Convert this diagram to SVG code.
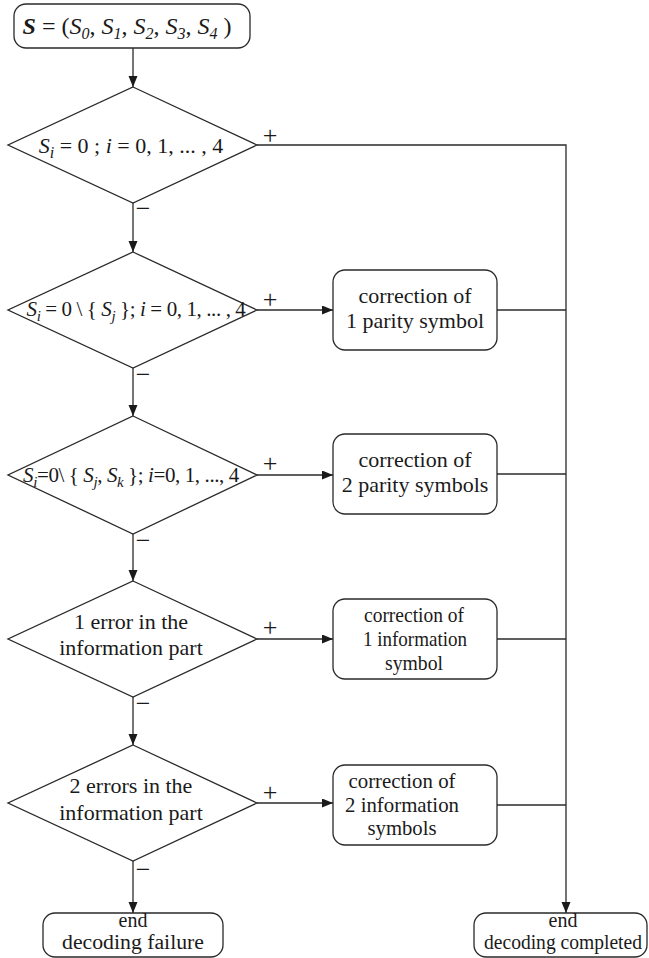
<svg xmlns="http://www.w3.org/2000/svg" width="649" height="958" viewBox="0 0 649 958">
<defs>
<marker id="arr" markerUnits="userSpaceOnUse" markerWidth="12" markerHeight="10" refX="11" refY="4.5" orient="auto">
<path d="M0,0 L11,4.5 L0,9 z" fill="#1a1a1a"/>
</marker>
<style>
.n{fill:#fff;stroke:#2a2a2a;stroke-width:1.3}
.t{font-family:"Liberation Serif","Times New Roman",serif;font-size:22px;fill:#1a1a1a;text-anchor:middle}
.e{font-family:"Liberation Serif","Times New Roman",serif;font-size:20px;fill:#1a1a1a;text-anchor:middle}
.l{font-family:"Liberation Serif","Times New Roman",serif;font-size:26px;fill:#1a1a1a;text-anchor:middle}
.c{fill:none;stroke:#2a2a2a;stroke-width:1.3}
.i{font-style:italic}
</style>
</defs>
<rect width="649" height="958" fill="#fff"/>
<g id="connectors">
<path class="c" d="M133,48 V87" marker-end="url(#arr)"/>
<path class="c" d="M133,203 V252" marker-end="url(#arr)"/>
<path class="c" d="M133,368 V416" marker-end="url(#arr)"/>
<path class="c" d="M133,534 V581" marker-end="url(#arr)"/>
<path class="c" d="M133,697 V745" marker-end="url(#arr)"/>
<path class="c" d="M133,861 V913" marker-end="url(#arr)"/>
<path class="c" d="M257,145 H566 V913" marker-end="url(#arr)"/>
<path class="c" d="M257,310 H333" marker-end="url(#arr)"/>
<path class="c" d="M257,475 H333" marker-end="url(#arr)"/>
<path class="c" d="M257,639 H333" marker-end="url(#arr)"/>
<path class="c" d="M257,803 H333" marker-end="url(#arr)"/>
<path class="c" d="M497,310 H566"/>
<path class="c" d="M497,474 H566"/>
<path class="c" d="M497,639 H566"/>
<path class="c" d="M497,805 H566"/>
<text class="l" x="270" y="144">+</text>
<text class="l" x="270" y="308">+</text>
<text class="l" x="270" y="472">+</text>
<text class="l" x="270" y="636">+</text>
<text class="l" x="270" y="801">+</text>
<text class="l" x="143" y="217">−</text>
<text class="l" x="143" y="383">−</text>
<text class="l" x="143" y="549">−</text>
<text class="l" x="143" y="712">−</text>
<text class="l" x="143" y="878">−</text>
</g>
<g id="start">
<rect class="n" x="14" y="4" width="236" height="44" rx="12"/>
<text class="t" x="127" y="34" style="font-size:24px"><tspan font-weight="bold" class="i">S</tspan> = (<tspan class="i">S</tspan><tspan class="i" font-size="16" dy="5">0</tspan><tspan dy="-5">, </tspan><tspan class="i">S</tspan><tspan class="i" font-size="16" dy="5">1</tspan><tspan dy="-5">, </tspan><tspan class="i">S</tspan><tspan class="i" font-size="16" dy="5">2</tspan><tspan dy="-5">, </tspan><tspan class="i">S</tspan><tspan class="i" font-size="16" dy="5">3</tspan><tspan dy="-5">, </tspan><tspan class="i">S</tspan><tspan class="i" font-size="16" dy="5">4</tspan><tspan dy="-5"> )</tspan></text>
</g>
<g id="d1">
<polygon class="n" points="133,87 257,145 133,203 8,145"/>
<text class="t" x="131" y="153"><tspan class="i">S</tspan><tspan class="i" font-size="16" dy="5">i</tspan><tspan dy="-5"> = 0 ; </tspan><tspan class="i">i</tspan> = 0, 1, ... , 4</text>
</g>
<g id="d2">
<polygon class="n" points="133,252 257,310 133,368 8,310"/>
<text class="t" x="136" y="316" style="font-size:21px;letter-spacing:-0.4px"><tspan class="i">S</tspan><tspan class="i" font-size="15" dy="5">i</tspan><tspan dy="-5"> = 0 \ { </tspan><tspan class="i">S</tspan><tspan class="i" font-size="15" dy="5">j</tspan><tspan dy="-5"> }; </tspan><tspan class="i">i</tspan> = 0, 1, ... , 4</text>
</g>
<g id="d3">
<polygon class="n" points="133,416 257,475 133,534 8,475"/>
<text class="t" x="131" y="482" style="font-size:21px;letter-spacing:-0.4px"><tspan class="i">S</tspan><tspan class="i" font-size="15" dy="5">i</tspan><tspan dy="-5">=0\ { </tspan><tspan class="i">S</tspan><tspan class="i" font-size="15" dy="5">j</tspan><tspan dy="-5">, </tspan><tspan class="i">S</tspan><tspan class="i" font-size="15" dy="5">k</tspan><tspan dy="-5"> }; </tspan><tspan class="i">i</tspan>=0, 1, ..., 4</text>
</g>
<g id="d4">
<polygon class="n" points="133,581 257,639 133,697 8,639"/>
<text class="t" x="131" y="629">1 error in the</text>
<text class="t" x="131" y="655">information part</text>
</g>
<g id="d5">
<polygon class="n" points="133,745 257,803 133,861 8,803"/>
<text class="t" x="131" y="793">2 errors in the</text>
<text class="t" x="131" y="820">information part</text>
</g>
<g id="b1">
<rect class="n" x="333" y="270" width="164" height="80" rx="12"/>
<text class="t" x="415" y="303">correction of</text>
<text class="t" x="415" y="328">1 parity symbol</text>
</g>
<g id="b2">
<rect class="n" x="333" y="434" width="164" height="80" rx="12"/>
<text class="t" x="415" y="467">correction of</text>
<text class="t" x="415" y="492">2 parity symbols</text>
</g>
<g id="b3">
<rect class="n" x="333" y="599" width="164" height="80" rx="12"/>
<text class="t" x="414" y="622" textLength="100" lengthAdjust="spacingAndGlyphs">correction of</text>
<text class="t" x="415" y="646" textLength="104" lengthAdjust="spacingAndGlyphs">1 information</text>
<text class="t" x="414" y="670" textLength="58" lengthAdjust="spacingAndGlyphs">symbol</text>
</g>
<g id="b4">
<rect class="n" x="333" y="765" width="164" height="80" rx="12"/>
<text class="t" x="402" y="788" textLength="107" lengthAdjust="spacingAndGlyphs">correction of</text>
<text class="t" x="402" y="812" textLength="114" lengthAdjust="spacingAndGlyphs">2 information</text>
<text class="t" x="402" y="835" textLength="69" lengthAdjust="spacingAndGlyphs">symbols</text>
</g>
<g id="endFail">
<rect class="n" x="43" y="913" width="180" height="44" rx="12"/>
<text class="e" x="133" y="927">end</text>
<text class="e" x="133" y="949" textLength="142" lengthAdjust="spacingAndGlyphs">decoding failure</text>
</g>
<g id="endDone">
<rect class="n" x="474" y="913" width="173" height="44" rx="12"/>
<text class="e" x="563" y="927">end</text>
<text class="e" x="563" y="949" textLength="158" lengthAdjust="spacingAndGlyphs">decoding completed</text>
</g>
</svg>
